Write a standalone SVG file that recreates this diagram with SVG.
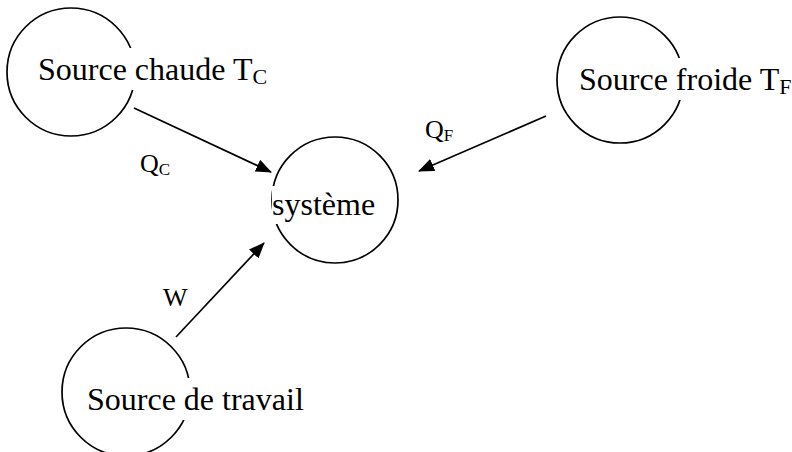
<svg xmlns="http://www.w3.org/2000/svg" width="792" height="452" viewBox="0 0 792 452">
  <style>
    .node { fill: none; stroke: #000; stroke-width: 1.7; }
    .lbl { font-family: "Liberation Serif", "Times New Roman", serif; font-size: 32px; fill: #000; }
    .sm { font-family: "Liberation Serif", "Times New Roman", serif; font-size: 26px; fill: #000; }
    .bg { fill: #fff; stroke: none; }
    .edge { stroke: #000; stroke-width: 1.7; fill: none; marker-end: url(#arrow); }
  </style>
  <defs>
    <marker id="arrow" viewBox="0 0 16 13" refX="15" refY="6.5" markerWidth="16" markerHeight="13" markerUnits="userSpaceOnUse" orient="auto">
      <path d="M0,0 L16,6.5 L0,13 Z" fill="#000"/>
    </marker>
  </defs>
  <rect width="792" height="452" fill="#fff"/>

  <g id="chaude">
    <circle class="node" cx="71" cy="72" r="64"/>
    <rect class="bg" x="37" y="48" width="238" height="42"/>
    <text class="lbl" font-family="Liberation Serif, serif" x="38" y="80">Source chaude T<tspan font-size="22" dy="4">C</tspan></text>
  </g>

  <g id="froide">
    <circle class="node" cx="620" cy="80" r="63"/>
    <rect class="bg" x="578" y="58" width="210" height="42"/>
    <text class="lbl" font-family="Liberation Serif, serif" x="579" y="90">Source froide T<tspan font-size="22" dy="4">F</tspan></text>
  </g>

  <g id="systeme">
    <circle class="node" cx="335" cy="200" r="63"/>
    <rect class="bg" x="272" y="186" width="120" height="38"/>
    <text class="lbl" font-family="Liberation Serif, serif" x="272" y="215">système</text>
  </g>

  <g id="travail">
    <circle class="node" cx="126" cy="392" r="64"/>
    <rect class="bg" x="86" y="378" width="220" height="42"/>
    <text class="lbl" font-family="Liberation Serif, serif" x="87" y="410">Source de travail</text>
  </g>

  <g id="connectors">
    <line class="edge" x1="134" y1="108" x2="271" y2="172"/>
    <line class="edge" x1="546" y1="116" x2="419" y2="171"/>
    <line class="edge" x1="176" y1="337" x2="264" y2="243"/>
    <text class="sm" font-family="Liberation Serif, serif" x="140" y="172">Q<tspan font-size="17" dy="3">C</tspan></text>
    <text class="sm" font-family="Liberation Serif, serif" x="425" y="138">Q<tspan font-size="17" dy="3">F</tspan></text>
    <text class="sm" font-family="Liberation Serif, serif" x="163" y="306">W</text>
  </g>
</svg>
